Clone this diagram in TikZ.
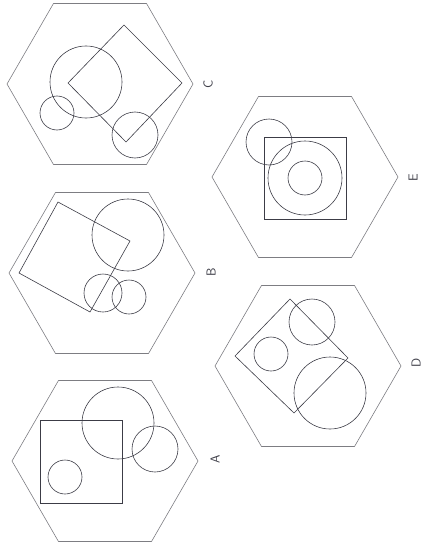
\documentclass[tikz,border=0pt]{standalone}
\usepackage{tikz}
\usetikzlibrary{positioning}
\definecolor{hexgray}{RGB}{125,125,130}
\definecolor{penline}{RGB}{60,60,70}

\begin{document}
\begin{tikzpicture}[x=1pt, y=-1pt,
  hexa/.style={draw=hexgray, line width=0.6pt},
  shp/.style={draw=penline, line width=0.6pt},
  lbl/.style={font=\sffamily\fontsize{13}{13}\selectfont, rotate=90, text=penline},
]
  \useasboundingbox (0,0) rectangle (433,551);

  % Hexagon frames
  \foreach \nm/\cx/\cy in {A/105/461, B/102/273, C/100/84, D/308/366, E/305/177}{
    \coordinate (hex\nm) at (\cx,\cy);
    \draw[hexa, shift={(hex\nm)}] (0:93) -- (60:93) -- (120:93) -- (180:93) -- (240:93) -- (300:93) -- cycle;
  }

  % Option labels
  \node[lbl] (labA) at (215,459) {A};
  \node[lbl] (labB) at (211,272) {B};
  \node[lbl] (labC) at (208,84) {C};
  \node[lbl] (labD) at (416,363) {D};
  \node[lbl] (labE) at (413,178) {E};

  % A
  \draw[shp] (40,420) rectangle (122,503);
  \draw[shp] (65,477) circle[radius=17pt];
  \draw[shp] (118,423) circle[radius=36pt];
  \draw[shp] (155,449) circle[radius=23pt];

  % B
  \draw[shp] (58,202) -- (130,241) -- (90,312) -- (19,273) -- cycle;
  \draw[shp] (128,235) circle[radius=36pt];
  \draw[shp] (103,293) circle[radius=19pt];
  \draw[shp] (129,297) circle[radius=17pt];

  % C
  \draw[shp] (124,25) -- (182,83) -- (126,142) -- (68,83) -- cycle;
  \draw[shp] (86,82) circle[radius=36pt];
  \draw[shp] (57,113) circle[radius=17pt];
  \draw[shp] (135,135) circle[radius=23pt];

  % D
  \draw[shp] (290,299) -- (348,358) -- (294,413) -- (235,356) -- cycle;
  \draw[shp] (312,322) circle[radius=23pt];
  \draw[shp] (271,354) circle[radius=17pt];
  \draw[shp] (330,393) circle[radius=36pt];

  % E
  \draw[shp] (264,137) rectangle (346,219);
  \draw[shp] (305,178) circle[radius=37pt];
  \draw[shp] (305,178) circle[radius=17pt];
  \draw[shp] (269,142) circle[radius=23pt];
\end{tikzpicture}
\end{document}
